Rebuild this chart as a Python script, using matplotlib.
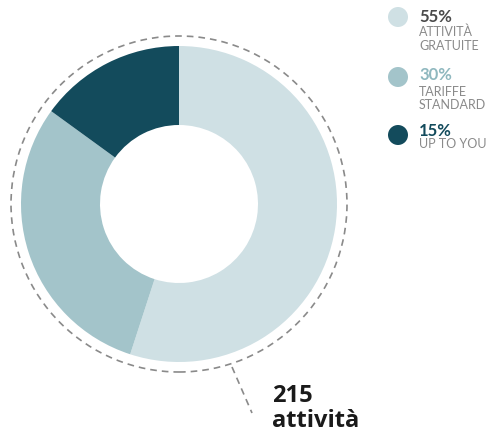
import matplotlib
matplotlib.use("Agg")
import matplotlib.pyplot as plt
from matplotlib.patches import Circle

# Data
categories = [["ATTIVITÀ", "GRATUITE"], ["TARIFFE", "STANDARD"], ["UP TO YOU"]]
values = [55, 30, 15]
pct_labels = ["55%", "30%", "15%"]
colors = ["#cfe0e4", "#a3c4ca", "#134b5c"]
pct_colors = ["#4a4a4a", "#8fb8bf", "#134b5c"]

W, H = 495, 440
fig = plt.figure(figsize=(W / 100, H / 100), dpi=100)
ax = fig.add_axes([0, 0, 1, 1])

cx, cy = 179, H - 204
R = 158
ax.pie(values, colors=colors, startangle=90, counterclock=False,
       center=(cx, cy), radius=R, wedgeprops=dict(width=R * 0.5, linewidth=0),
       frame=True)
ax.set_xlim(0, W)
ax.set_ylim(0, H)
ax.set_aspect("equal")
ax.axis("off")

ax.add_patch(Circle((cx, cy), 168, fill=False, edgecolor="#8a8a8a",
                    linestyle=(0, (4, 3)), linewidth=1.2))
ax.plot([232, 252], [H - 367, H - 413], color="#8a8a8a",
        linestyle=(0, (4, 3)), linewidth=1.2)

ax.text(272, H - 396, "215", fontsize=17, fontweight="bold",
        family="Open Sans", color="#1a1a1a", va="center", ha="left")
ax.text(272, H - 421, "attività", fontsize=17, fontweight="bold",
        family="Open Sans", color="#1a1a1a", va="center", ha="left")

# Legend
circle_y = [17, 77, 135]
pct_y = [17, 75, 131]
line_y = [[32, 46], [92, 105], [144]]
for i in range(len(values)):
    ax.add_patch(Circle((398, H - circle_y[i]), 10, color=colors[i], linewidth=0))
    ax.text(419, H - pct_y[i], pct_labels[i], fontsize=12, fontweight="bold",
            family="Lato", color=pct_colors[i], va="center", ha="left")
    for txt, ly in zip(categories[i], line_y[i]):
        ax.text(419, H - ly, txt, fontsize=9, fontweight="normal",
                family="Lato", color="#8a8a8a", va="center", ha="left")

fig.savefig("out.png", dpi=100)
